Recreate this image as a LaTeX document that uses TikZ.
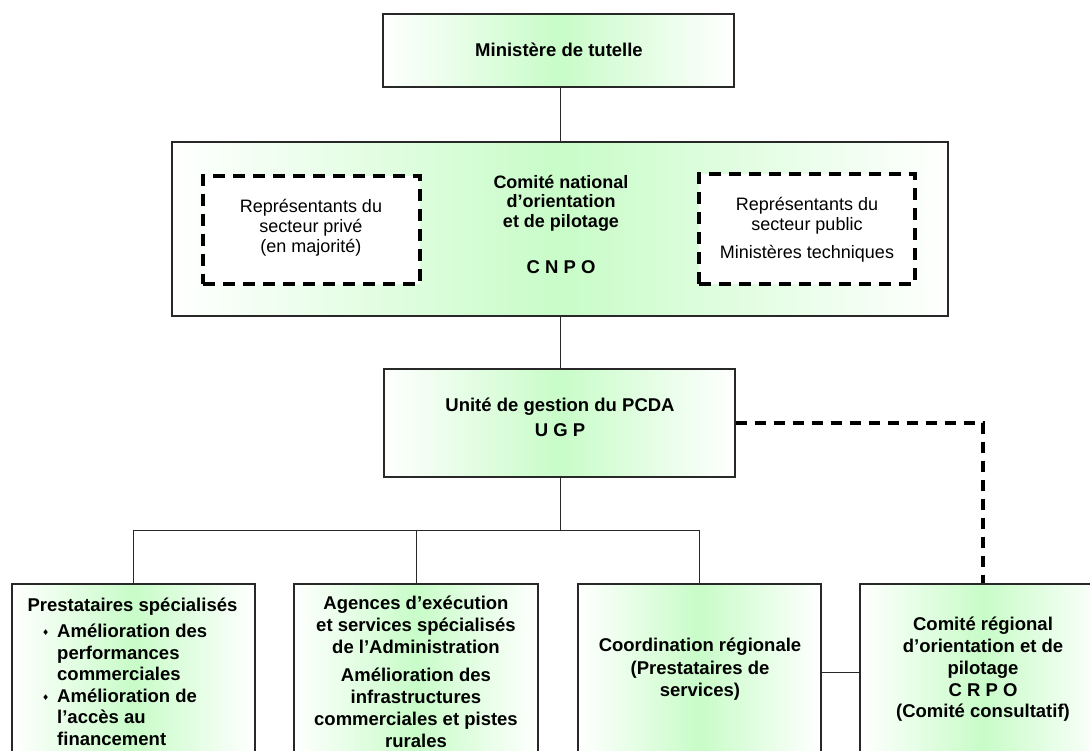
\documentclass[tikz,border=0pt]{standalone}
\usepackage{fontspec}
\setmainfont{Liberation Sans}
\newfontfamily\djv{DejaVu Sans}
\definecolor{gfill}{RGB}{200,252,200}
\definecolor{edge}{RGB}{40,40,40}
\newcommand{\bul}{\makebox[9pt][l]{\raisebox{2pt}{\djv\fontsize{8}{8}\selectfont ♦}}}
\tikzset{
  gbox/.style={draw=edge, line width=1.2pt, left color=white, right color=white, middle color=gfill, inner sep=0pt},
  dbox/.style={draw=black, line width=4pt, dash pattern=on 12pt off 8pt, fill=white, inner sep=0pt},
  conn/.style={draw=edge, line width=1pt},
  dconn/.style={draw=black, line width=4pt, dash pattern=on 11pt off 8pt},
  bt/.style={font=\fontsize{18.5}{21.5}\selectfont\bfseries, align=center, inner sep=0pt},
  ct/.style={font=\fontsize{18}{19.5}\selectfont\bfseries, align=center, inner sep=0pt},
  rt/.style={font=\fontsize{18}{20}\selectfont, align=center, inner sep=0pt}
}
\begin{document}
\begin{tikzpicture}[x=1pt,y=-1pt]
\clip (0,0) rectangle (1090,751);
\fill[white] (0,0) rectangle (1090,751);

% top
\node[gbox, minimum width=351pt, minimum height=73pt] (min) at (558.5,50.5) {};
\node[bt] (mint) at (559,50) {Ministère de tutelle};

% CNPO
\node[gbox, minimum width=776pt, minimum height=174pt] (cnpo) at (560,229) {};
\node[dbox, minimum width=217pt, minimum height=108pt] (priv) at (311.5,230) {};
\node[dbox, minimum width=216pt, minimum height=110pt] (pub) at (807,229) {};
\node[rt] (privt) at (311,228) {Représentants du\\secteur privé\\(en majorité)};
\node[rt] (pubt) at (807,229.5) {Représentants du\\secteur public\\[8pt]Ministères techniques};
\node[ct] (cnpot) at (561,203) {Comité national\\d’orientation\\et de pilotage};
\node[bt] (cnpol) at (561,267) {C N P O};

% UGP
\node[gbox, minimum width=351pt, minimum height=108pt] (ugp) at (559.5,423) {};
\node[bt] (ugpt) at (560,417.5) {Unité de gestion du PCDA\\[3pt]U G P};

% bottom boxes
\node[gbox, minimum width=243pt, minimum height=186pt] (b1) at (133.5,677) {};
\node[gbox, minimum width=244pt, minimum height=186pt] (b2) at (416,677) {};
\node[gbox, minimum width=243pt, minimum height=186pt] (b3) at (699.5,677) {};
\node[gbox, minimum width=246pt, minimum height=186pt] (b4) at (983,677) {};

\node[bt] (b1t) at (132.5,607) {Prestataires spécialisés};
\node[anchor=base west, inner sep=0pt, font=\fontsize{18.5}{21.5}\selectfont\bfseries] (b1l) at (42,637.5)
  {\begin{tabular}[t]{@{}l@{\hspace{6pt}}l@{}}
   \bul & Amélioration des\\
        & performances\\
        & commerciales\\
   \bul & Amélioration de\\
        & l’accès au\\
        & financement
   \end{tabular}};
\node[bt, font=\fontsize{18.5}{22}\selectfont\bfseries] (b2t) at (416,671.5)
  {Agences d’exécution\\et services spécialisés\\de l’Administration\\[6pt]Amélioration des\\infrastructures\\commerciales et pistes\\rurales};
\node[bt, font=\fontsize{18.5}{22.5}\selectfont\bfseries] (b3t) at (700,669.5) {Coordination régionale\\(Prestataires de\\services)};
\node[bt, font=\fontsize{18.5}{21.75}\selectfont\bfseries] (b4t) at (983,669.5) {Comité régional\\d’orientation et de\\pilotage\\C R P O\\(Comité consultatif)};

% connectors
\coordinate (bus) at (560,530);
\draw[conn] (min.south -| cnpo.north) -- (cnpo.north);
\draw[conn] (cnpo.south) -- (cnpo.south |- ugp.north);
\draw[conn] (cnpo.south |- ugp.south) -- (bus);
\draw[conn] (b1.north) -- (b1.north |- bus) -- (b3.north |- bus) -- (b3.north);
\draw[conn] (b2.north) -- (b2.north |- bus);
\draw[conn] (b3.east |- 0,672) -- (b4.west |- 0,672);
\draw[dconn] (ugp.east) -| (b4.north);
\end{tikzpicture}
\end{document}
